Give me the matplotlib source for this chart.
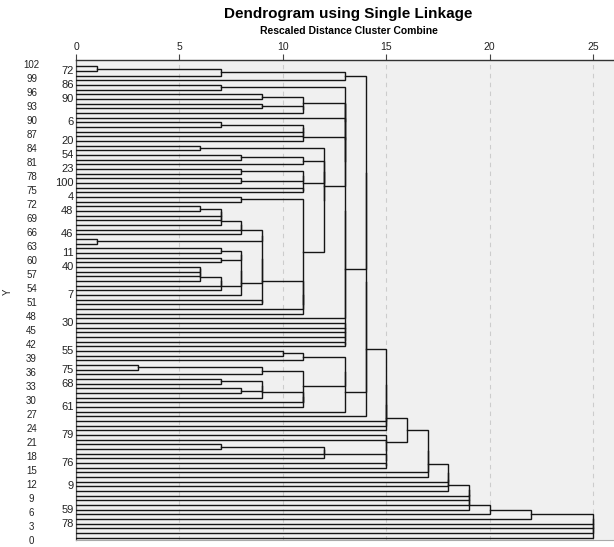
import matplotlib
matplotlib.use('Agg')
import matplotlib.pyplot as plt

plt.rcParams['font.family'] = ['Liberation Sans', 'DejaVu Sans']

n_leaves = 102
xtick_vals = [0, 5, 10, 15, 20, 25]
ytick_vals = list(range(0, 103, 3))

# case labels printed next to some of the leaves (leaf row -> label)
label_rows = [1, 4, 7, 12, 16, 19, 22, 25, 28, 31, 36, 40, 43, 49, 55,
              61, 65, 68, 73, 79, 85, 90, 95, 98]
label_texts = ['72', '86', '90', '6', '20', '54', '23', '100', '4', '48', '46',
               '11', '40', '7', '30', '55', '75', '68', '61', '79', '76', '9',
               '59', '78']


def m(h, *kids):
    # join the children one after another at the same rescaled distance
    node = kids[0]
    for k in kids[1:]:
        node = (h, node, k)
    return node


# merge tree, leaves numbered from the top row down
top = m(13, m(7, m(1, 0, 1), 2), 3)
c4_5 = m(7, 4, 5)
c6_10 = m(11, m(9, 6, 7), m(11, m(9, 8, 9), 10))
c12_16 = m(11, m(7, 12, 13), 14, 15, 16)
c17_18 = m(6, 17, 18)
c19_21 = m(11, m(8, 19, 20), 21)
c22_27 = m(11, m(8, 22, 23), m(8, 24, 25), m(11, 26, 27))
c28_29 = m(8, 28, 29)
c30_36 = m(8, m(7, m(6, 30, 31), 32, 33, 34), 35, 36)
c37_38 = m(1, 37, 38)
c39_49 = m(8, m(7, 39, 40), m(7, 41, 42), m(7, m(6, 43, 44, 45, 46), 47, 48), 49)
c30_51 = m(9, c30_36, c37_38, c39_49, m(9, 50, 51))
c28_53 = m(11, c30_51, 52, 53, c28_29)
c17_53 = m(12, m(12, c17_18, c28_53), m(12, c19_21, c22_27))
c4_60 = m(13, c17_53, c12_16, 11, c6_10, c4_5, 54, m(13, 60, 59, 58, 57, 56, 55))
c61_74 = m(13, m(11, m(10, 61, 62), 63),
           m(11, m(9, m(3, 64, 65), 66),
             m(11, m(9, m(7, 67, 68), m(8, 69, 70), 71), 72, 73)), 74)
c0_75 = m(14, top, c4_60, c61_74, 75)
c15a = m(15, c0_75, 76, 77, 78)
c81_84 = m(12, m(7, 81, 82), 83, 84)
c15b = m(15, m(15, 85, 86), c81_84, 80, 79)
root = m(25, m(22, m(20, m(19, m(18, m(17, m(16, c15a, c15b), 87, 88),
                                   89, 90, 91), 92, 93, 94, 95), 96), 97),
         98, 99, 100, 101)

line_col = '#151515'

fig = plt.figure(figsize=(6.14, 5.47), dpi=100)
ax = fig.add_axes([76 / 614, 7 / 547, 538 / 614, 480 / 547])
ax.set_facecolor('#f0f0f0')


def leaf_y(i):
    return n_leaves - 0.5 - i


def draw(node):
    if isinstance(node, int):
        return leaf_y(node), 0.0
    h, left, right = node
    yl, hl = draw(left)
    yr, hr = draw(right)
    ax.plot([hl, h, h, hr], [yl, yl, yr, yr], color=line_col, lw=1.0,
            solid_joinstyle='miter', zorder=3)
    return (yl + yr) / 2, h


for v in xtick_vals[1:]:
    ax.axvline(v, color='#cccccc', lw=0.8, ls=(0, (4, 4)), zorder=1)

draw(root)

ax.set_xlim(0, 538 / 20.68)
ax.set_ylim(0, 102.85)

ax.xaxis.tick_top()
ax.set_xticks(xtick_vals)
ax.set_xticklabels([str(v) for v in xtick_vals])
ax.tick_params(axis='x', length=4, width=0.8, color='#444444', pad=2,
               labelsize=7.5, labelcolor='#222222')

ax.set_yticks(ytick_vals)
ax.set_yticklabels([str(v) for v in ytick_vals])
ax.tick_params(axis='y', length=0, pad=32, labelsize=7, labelcolor='#222222')
for t in ax.get_yticklabels():
    t.set_ha('center')

ax.spines['right'].set_visible(False)
ax.spines['top'].set_color('#333333')
ax.spines['top'].set_linewidth(1.0)
ax.spines['left'].set_color('#555555')
ax.spines['left'].set_linewidth(0.9)
ax.spines['bottom'].set_color('#aaaaaa')
ax.spines['bottom'].set_linewidth(0.8)

for row, txt in zip(label_rows, label_texts):
    ax.text(-0.12, leaf_y(row), txt, ha='right', va='center', fontsize=8,
            color='#222222', clip_on=False)

fig.text(8 / 614, 1 - 292 / 547, 'Y', rotation=90, ha='center', va='center',
         fontsize=7, color='#222222')
fig.text(348 / 614, 1 - 14 / 547, 'Dendrogram using Single Linkage',
         ha='center', va='center', fontsize=11, fontweight='bold')
fig.text(349 / 614, 1 - 31 / 547, 'Rescaled Distance Cluster Combine',
         ha='center', va='center', fontsize=7.5, fontweight='bold')

fig.savefig('out.png', dpi=100)
